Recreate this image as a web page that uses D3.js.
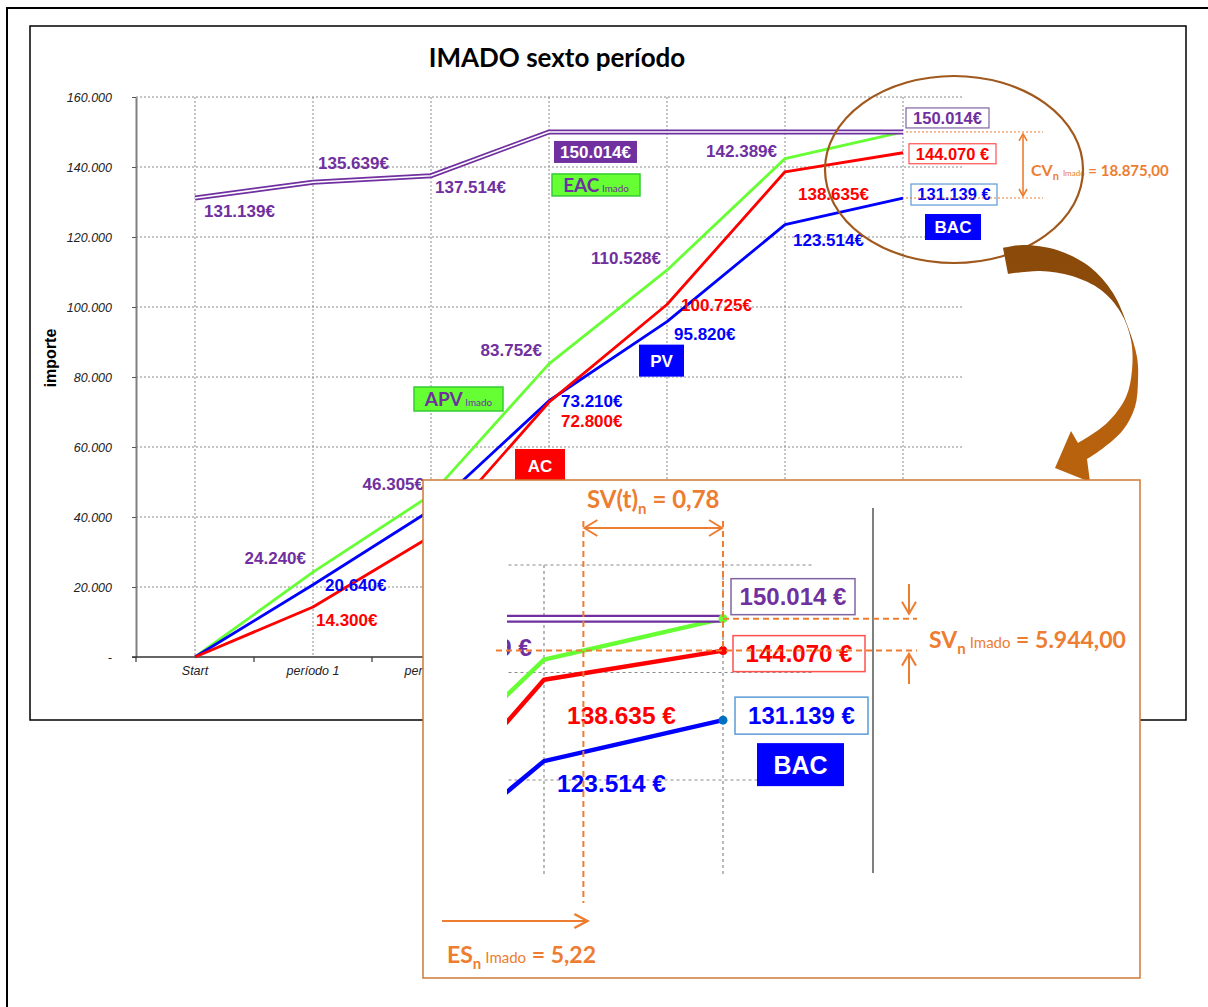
<!DOCTYPE html>
<html>
<head>
<meta charset="utf-8">
<script src="https://cdn.jsdelivr.net/npm/d3@7"></script>
<style>
  body { margin: 0; background: #fff; }
  svg { display: block; }
</style>
</head>
<body>
<svg id="chart" width="1208" height="1007"></svg>
<script>
// ---- data -------------------------------------------------------------
const periods = ["Start", "período 1", "período 2", "período 3", "período 4", "período 5", "período 6"];
const pv  = [0, 20640, 42000, 73210, 95820, 123514, 131139];        // PV (planned value)
const ac  = [0, 14300, 34500, 72800, 100725, 138635, 144070];       // AC (actual cost)
const apv = [0, 24240, 46305, 83752, 110528, 142389, 150014];       // APV Imado
const eac = [131139, 135639, 137514, 150014, 150014, 150014, 150014]; // EAC Imado
const yTicks = [0, 20000, 40000, 60000, 80000, 100000, 120000, 140000, 160000];
const esImado = 5.22;     // earned schedule, in periods
const nowPeriod = 6;      // reporting period

// ---- formatting -------------------------------------------------------
const loc = d3.formatLocale({decimal: ",", thousands: ".", grouping: [3], currency: ["", "€"]});
const fmtInt = loc.format(",.0f");
const fmt2 = loc.format(",.2f");

const PURPLE = "#7030A0", BLUE = "#0000FF", RED = "#FF0000", GREEN = "#66FF33", ORANGE = "#ED7D31";
const ARIAL = "'Liberation Sans', Arial, sans-serif";
const CAL = "Lato, 'Open Sans', sans-serif";
const seriesByName = {pv, ac, apv, eac};

const svg = d3.select("#chart");
const defs = svg.append("defs");

// ---- page and chart frames -------------------------------------------
svg.append("path").attr("d", "M7,1007V8H1208").attr("fill", "none")
  .attr("stroke", "#000").attr("stroke-width", 2);
svg.append("rect").attr("x", 30).attr("y", 26).attr("width", 1156).attr("height", 694)
  .attr("fill", "#fff").attr("stroke", "#000").attr("stroke-width", 1.5);

// ---- main chart scales ------------------------------------------------
const x = d3.scaleBand().domain(periods).range([136, 962]);
const bw = x.bandwidth();
const cx = i => x(periods[i]) + bw / 2;
const y = d3.scaleLinear().domain([0, 160000]).range([657, 97]);

svg.append("text").attr("x", 557).attr("y", 67).attr("text-anchor", "middle")
  .attr("font-family", CAL).attr("font-weight", 700).attr("font-size", 26)
  .attr("fill", "#000").text("IMADO sexto período");

svg.append("text").attr("transform", `translate(56,358) rotate(-90)`)
  .attr("text-anchor", "middle").attr("font-family", ARIAL).attr("font-weight", 700)
  .attr("font-size", 16).attr("fill", "#000").text("importe");

const main = svg.append("g");

// gridlines
main.append("g").selectAll("line").data(yTicks.filter(v => v > 0)).join("line")
  .attr("x1", x.range()[0]).attr("x2", x.range()[1])
  .attr("y1", d => y(d)).attr("y2", d => y(d))
  .attr("stroke", "#8a8a8a").attr("stroke-width", 1).attr("stroke-dasharray", "2,2");
main.append("g").selectAll("line").data(periods).join("line")
  .attr("x1", d => x(d) + bw / 2).attr("x2", d => x(d) + bw / 2)
  .attr("y1", y(160000)).attr("y2", y(0))
  .attr("stroke", "#8a8a8a").attr("stroke-width", 1).attr("stroke-dasharray", "2,2");

// y axis
const yAxis = main.append("g").attr("transform", `translate(${x.range()[0]},0)`)
  .call(d3.axisLeft(y).tickValues(yTicks).tickSize(4).tickSizeOuter(0).tickPadding(20)
    .tickFormat(v => v === 0 ? "-" : fmtInt(v)));
yAxis.select(".domain").attr("stroke", "#808080").attr("stroke-width", 2);
yAxis.selectAll(".tick line").attr("stroke", "#555");
yAxis.selectAll(".tick text").attr("font-family", ARIAL).attr("font-style", "italic")
  .attr("font-size", 12.5).attr("fill", "#222");

// x axis: labels at band centres, tick marks at band edges
const xAxis = main.append("g").attr("transform", `translate(0,${y(0)})`)
  .call(d3.axisBottom(x).tickSize(0).tickPadding(9));
xAxis.select(".domain").remove();
xAxis.selectAll(".tick text").attr("font-family", ARIAL).attr("font-style", "italic")
  .attr("font-size", 12.5).attr("fill", "#222");
main.append("line").attr("x1", x.range()[0] - 4).attr("x2", x.range()[1])
  .attr("y1", y(0)).attr("y2", y(0)).attr("stroke", "#333").attr("stroke-width", 1.5);
main.append("g").selectAll("line").data(d3.range(periods.length + 1)).join("line")
  .attr("x1", k => x.range()[0] + k * x.step()).attr("x2", k => x.range()[0] + k * x.step())
  .attr("y1", y(0)).attr("y2", y(0) + 5).attr("stroke", "#333").attr("stroke-width", 1.2);

// series lines
function drawSeries(g, xs, ys, widths) {
  const line = d3.line().x((d, i) => xs(i)).y(d => ys(d));
  [[apv, GREEN], [pv, BLUE], [ac, RED]].forEach(([vals, col]) => {
    g.append("path").attr("d", line(vals)).attr("fill", "none").attr("stroke", col)
      .attr("stroke-width", widths.line).attr("stroke-linejoin", "round");
  });
  // EAC drawn as a double line
  g.append("path").attr("d", line(eac)).attr("fill", "none").attr("stroke", PURPLE)
    .attr("stroke-width", widths.outer);
  g.append("path").attr("d", line(eac)).attr("fill", "none").attr("stroke", "#fff")
    .attr("stroke-width", widths.inner);
}
drawSeries(main, cx, y, {line: 2.8, outer: 5, inner: 1.6});

// value labels
function valueLabels(g, xs, ys, specs, size, suffix) {
  specs.forEach(s => {
    const v = seriesByName[s.s][s.i];
    g.append("text").attr("x", xs(s.i) + s.dx).attr("y", ys(v) + s.dy)
      .attr("text-anchor", s.anchor || "start")
      .attr("font-family", ARIAL).attr("font-weight", 700).attr("font-size", size)
      .attr("fill", s.color).text(fmtInt(v) + suffix);
  });
}
valueLabels(main, cx, y, [
  {s: "eac", i: 0, dx: 9, dy: 19, color: PURPLE},
  {s: "eac", i: 1, dx: 5, dy: -13, color: PURPLE},
  {s: "eac", i: 2, dx: 4, dy: 17, color: PURPLE},
  {s: "apv", i: 1, dx: -7, dy: -8, anchor: "end", color: PURPLE},
  {s: "apv", i: 2, dx: -7, dy: -5, anchor: "end", color: PURPLE},
  {s: "apv", i: 3, dx: -7, dy: -8, anchor: "end", color: PURPLE},
  {s: "apv", i: 4, dx: -6, dy: -6, anchor: "end", color: PURPLE},
  {s: "apv", i: 5, dx: -8, dy: -2, anchor: "end", color: PURPLE},
  {s: "pv", i: 1, dx: 12, dy: 6, color: BLUE},
  {s: "pv", i: 3, dx: 12, dy: 6, color: BLUE},
  {s: "pv", i: 4, dx: 7, dy: 18, color: BLUE},
  {s: "pv", i: 5, dx: 8, dy: 21, color: BLUE},
  {s: "ac", i: 1, dx: 3, dy: 19, color: RED},
  {s: "ac", i: 3, dx: 12, dy: 25, color: RED},
  {s: "ac", i: 4, dx: 14, dy: 7, color: RED},
  {s: "ac", i: 5, dx: 13, dy: 28, color: RED}
], 17, "€");

// boxed labels: value boxes and series tags
function box(g, x0, y0, w, h, fill, stroke, sw) {
  g.append("rect").attr("x", x0).attr("y", y0).attr("width", w).attr("height", h)
    .attr("fill", fill).attr("stroke", stroke || "none").attr("stroke-width", sw || 1.5);
}
function boxedValue(g, xs, ys, s, size, suffix) {
  const v = seriesByName[s.s][s.i];
  const x0 = xs(s.i) + s.dx, y0 = ys(v) + s.dy;
  box(g, x0, y0, s.w, s.h, s.fill, s.stroke, s.sw);
  g.append("text").attr("x", x0 + s.w / 2).attr("y", y0 + s.h / 2 + size * 0.36)
    .attr("text-anchor", "middle").attr("font-family", ARIAL).attr("font-weight", 700)
    .attr("font-size", size).attr("fill", s.color).text(fmtInt(v) + suffix);
}
function tag(g, x0, y0, w, h, fill, stroke, txt, sub, size, color, font) {
  box(g, x0, y0, w, h, fill, stroke, 1.5);
  const t = g.append("text").attr("x", x0 + w / 2).attr("y", y0 + h / 2 + size * 0.36)
    .attr("text-anchor", "middle").attr("font-family", font || ARIAL).attr("font-weight", 700)
    .attr("font-size", size).attr("fill", color);
  t.append("tspan").text(txt);
  if (sub) t.append("tspan").attr("font-size", size * 0.52).attr("font-weight", 400).text(" " + sub);
}

boxedValue(main, cx, y, {s: "eac", i: 3, dx: 5, dy: 9, w: 83, h: 22, fill: PURPLE, color: "#fff"}, 17, "€");
boxedValue(main, cx, y, {s: "eac", i: 6, dx: 3, dy: -24, w: 83, h: 20, fill: "#fff", stroke: "#8064A2", sw: 1.2, color: PURPLE}, 16.5, "€");
boxedValue(main, cx, y, {s: "ac", i: 6, dx: 6, dy: -9, w: 87, h: 20, fill: "#fff", stroke: "#FF5050", sw: 1.2, color: RED}, 16.5, " €");
boxedValue(main, cx, y, {s: "pv", i: 6, dx: 8, dy: -14, w: 86, h: 21, fill: "#fff", stroke: "#5B9BD5", sw: 1.2, color: BLUE}, 16.5, " €");

tag(main, cx(3) + 3, y(eac[3]) + 42, 88, 22, GREEN, "#33CC33", "EAC", "Imado", 19, PURPLE, CAL);
tag(main, cx(2) - 17, y(80000) + 10, 89, 24, GREEN, "#33CC33", "APV", "Imado", 19, PURPLE, CAL);
tag(main, cx(4) - 28, y(pv[4]) + 23, 45, 32, BLUE, null, "PV", null, 17, "#fff");
tag(main, cx(3) - 34, y(60000) + 2, 50, 34, RED, null, "AC", null, 17, "#fff");
tag(main, cx(6) + 22, y(pv[6]) + 16, 56, 26, BLUE, null, "BAC", null, 17, "#fff");

// ---- orange annotation helpers ---------------------------------------
function chevron(g, px, py, angle, len, half, col, sw) {
  const a = angle * Math.PI / 180;
  const bx = px - Math.cos(a) * len, by = py - Math.sin(a) * len;
  const nx = -Math.sin(a) * half, ny = Math.cos(a) * half;
  g.append("path").attr("d", `M${bx + nx},${by + ny}L${px},${py}L${bx - nx},${by - ny}`)
    .attr("fill", "none").attr("stroke", col).attr("stroke-width", sw)
    .attr("stroke-linejoin", "miter").attr("stroke-linecap", "butt");
}
function hline(g, x1, x2, yy, dash, sw) {
  g.append("line").attr("x1", x1).attr("x2", x2).attr("y1", yy).attr("y2", yy)
    .attr("stroke", ORANGE).attr("stroke-width", sw).attr("stroke-dasharray", dash);
}
function vline(g, xx, y1, y2, dash, sw) {
  g.append("line").attr("x1", xx).attr("x2", xx).attr("y1", y1).attr("y2", y2)
    .attr("stroke", ORANGE).attr("stroke-width", sw).attr("stroke-dasharray", dash);
}
function indexLabel(g, x0, yb, big, sub, small, rest, sizes) {
  const t = g.append("text").attr("x", x0).attr("y", yb).attr("font-family", CAL)
    .attr("font-weight", 700).attr("fill", ORANGE);
  t.append("tspan").attr("font-size", sizes[0]).text(big);
  t.append("tspan").attr("font-size", sizes[1]).attr("dy", sizes[1] * 0.4).text(sub);
  if (small) t.append("tspan").attr("font-size", sizes[2]).attr("font-weight", 400)
    .attr("dy", -sizes[1] * 0.4).attr("dx", 4).text(small);
  t.append("tspan").attr("font-size", sizes[3]).attr("dy", small ? 0 : -sizes[1] * 0.4)
    .text(rest);
}

// CV annotation on the main chart
const cvG = svg.append("g");
hline(cvG, cx(6) + 3, 1043, y(eac[6]), "2,2", 1);
hline(cvG, cx(6) + 3, 1043, y(pv[6]), "2,2", 1);
cvG.append("line").attr("x1", 1023).attr("x2", 1023).attr("y1", y(eac[6]) + 2).attr("y2", y(pv[6]) - 2)
  .attr("stroke", ORANGE).attr("stroke-width", 1.6);
chevron(cvG, 1023, y(eac[6]) + 2, -90, 7, 4, ORANGE, 1.6);
chevron(cvG, 1023, y(pv[6]) - 2, 90, 7, 4, ORANGE, 1.6);
indexLabel(cvG, 1031, 176, "CV", "n", "Imado", " = " + fmt2(eac[6] - pv[6]), [16, 11, 8, 15]);

// ellipse around the end of the chart
svg.append("ellipse").attr("cx", 954).attr("cy", 169.5).attr("rx", 129).attr("ry", 93.5)
  .attr("fill", "none").attr("stroke", "#A0581C").attr("stroke-width", 2.2);

// curved arrow pointing to the detail view
const grad = defs.append("linearGradient").attr("id", "arrowFill")
  .attr("gradientUnits", "userSpaceOnUse").attr("x1", 0).attr("y1", 245).attr("x2", 0).attr("y2", 480);
grad.append("stop").attr("offset", 0).attr("stop-color", "#8A4A0A");
grad.append("stop").attr("offset", 0.38).attr("stop-color", "#8E4C0B");
grad.append("stop").attr("offset", 0.43).attr("stop-color", "#B5600D");
grad.append("stop").attr("offset", 1).attr("stop-color", "#B8620E");
const outerEdge = [[1003,248],[1023,245],[1057,250],[1090,267],[1113,293],[1128,327],[1137,357],[1138,380],[1135,407],[1123,430],[1102,449],[1087,459]];
const innerEdge = [[1078,443],[1107,423],[1126,397],[1132,370],[1131,340],[1121,313],[1101,290],[1072,276],[1040,271],[1008,274]];
const curve = d3.line().curve(d3.curveCatmullRom);
const arrowD = curve(outerEdge) + "L1090,482L1055,468L1071,431" +
  curve(innerEdge).replace(/^M/, "L") + "Z";
svg.append("path").attr("d", arrowD).attr("fill", "url(#arrowFill)");

// ---- detail view (magnified end of the chart) -------------------------
const inset = svg.append("g");
inset.append("rect").attr("x", 423).attr("y", 480).attr("width", 717).attr("height", 498)
  .attr("fill", "#fff").attr("stroke", "#CF7A33").attr("stroke-width", 1.5);

const xi = d3.scaleLinear().domain([5, 6]).range([544, 723]);
const yi = d3.scaleLinear().domain([120000, 160000]).range([780, 565]);

defs.append("clipPath").attr("id", "insetClip").append("rect")
  .attr("x", 507).attr("y", 500).attr("width", 366).attr("height", 375);
const ic = inset.append("g").attr("clip-path", "url(#insetClip)");

ic.append("g").selectAll("line").data([120000, 140000, 160000]).join("line")
  .attr("x1", xi(4.5)).attr("x2", xi(6.5)).attr("y1", d => yi(d)).attr("y2", d => yi(d))
  .attr("stroke", "#8a8a8a").attr("stroke-width", 1.2).attr("stroke-dasharray", "3,3");
ic.append("g").selectAll("line").data([5, 6]).join("line")
  .attr("x1", d => xi(d)).attr("x2", d => xi(d)).attr("y1", yi(160000)).attr("y2", 900)
  .attr("stroke", "#8a8a8a").attr("stroke-width", 1.2).attr("stroke-dasharray", "3,3");

drawSeries(ic, xi, yi, {line: 4.5, outer: 8, inner: 3.5});
valueLabels(ic, xi, yi, [
  {s: "apv", i: 5, dx: -12, dy: -4, anchor: "end", color: PURPLE},
  {s: "ac", i: 5, dx: 23, dy: 44, color: RED},
  {s: "pv", i: 5, dx: 13, dy: 31, color: BLUE}
], 24.5, " €");

// end-point dots
[[apv, "#66FF33"], [ac, "#FF0000"], [pv, "#0070C0"]].forEach(([vals, col]) => {
  inset.append("circle").attr("cx", xi(nowPeriod)).attr("cy", yi(vals[nowPeriod]))
    .attr("r", 4.5).attr("fill", col);
});

// separator on the right of the magnified plot
inset.append("line").attr("x1", 873).attr("x2", 873).attr("y1", 508).attr("y2", 873)
  .attr("stroke", "#7f7f7f").attr("stroke-width", 2);

boxedValue(inset, xi, yi, {s: "apv", i: 6, dx: 8, dy: -40, w: 124, h: 36, fill: "#fff", stroke: "#8064A2", sw: 1.5, color: PURPLE}, 24, " €");
boxedValue(inset, xi, yi, {s: "ac", i: 6, dx: 10, dy: -15, w: 132, h: 36, fill: "#fff", stroke: "#FF5050", sw: 1.5, color: RED}, 24, " €");
boxedValue(inset, xi, yi, {s: "pv", i: 6, dx: 12, dy: -23, w: 133, h: 37, fill: "#fff", stroke: "#5B9BD5", sw: 1.5, color: BLUE}, 24, " €");
tag(inset, xi(6) + 34, yi(pv[6]) + 23, 87, 43, BLUE, null, "BAC", null, 25, "#fff");

// schedule variance in time
const xES = xi(esImado), xNow = xi(nowPeriod);
vline(inset, xES, 521, 903, "6,4", 2);
vline(inset, xNow, 521, yi(ac[nowPeriod]), "6,4", 2);
inset.append("line").attr("x1", xES + 1).attr("x2", xNow - 1).attr("y1", 528).attr("y2", 528)
  .attr("stroke", ORANGE).attr("stroke-width", 2);
chevron(inset, xES + 1, 528, 180, 13, 8, ORANGE, 2);
chevron(inset, xNow - 1, 528, 0, 13, 8, ORANGE, 2);
indexLabel(inset, 587, 508, "SV(t)", "n", null, " = " + fmt2(nowPeriod - esImado), [24, 15, 0, 24]);

// schedule variance in money
hline(inset, xNow, 917, yi(apv[nowPeriod]), "6,4", 2);
hline(inset, 496, 917, yi(ac[nowPeriod]), "6,4", 2);
inset.append("line").attr("x1", 909).attr("x2", 909).attr("y1", 584).attr("y2", yi(apv[nowPeriod]) - 5)
  .attr("stroke", ORANGE).attr("stroke-width", 2);
chevron(inset, 909, yi(apv[nowPeriod]) - 5, 90, 12, 7, ORANGE, 2);
inset.append("line").attr("x1", 909).attr("x2", 909).attr("y1", 684).attr("y2", yi(ac[nowPeriod]) + 3)
  .attr("stroke", ORANGE).attr("stroke-width", 2);
chevron(inset, 909, yi(ac[nowPeriod]) + 3, -90, 12, 7, ORANGE, 2);
indexLabel(inset, 929, 648, "SV", "n", "Imado", " = " + fmt2(apv[nowPeriod] - ac[nowPeriod]), [23, 15, 15, 23]);

// earned schedule
inset.append("line").attr("x1", 442).attr("x2", xES + 4).attr("y1", 921).attr("y2", 921)
  .attr("stroke", ORANGE).attr("stroke-width", 2);
chevron(inset, xES + 4, 921, 0, 13, 7, ORANGE, 2.5);
indexLabel(inset, 447, 963, "ES", "n", "Imado", " = " + fmt2(esImado), [23, 15, 15, 23]);
</script>
</body>
</html>
